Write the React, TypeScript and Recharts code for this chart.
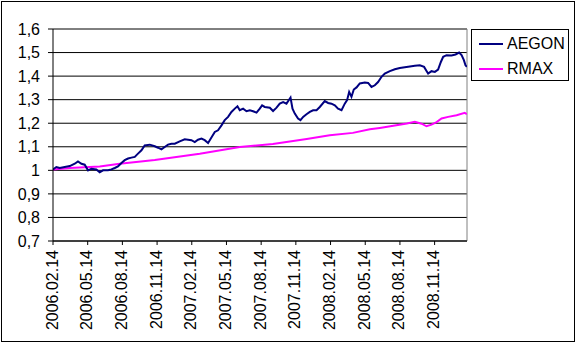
import { LineChart, Line, XAxis, YAxis, CartesianGrid, ReferenceLine } from "recharts";

// x = months since 2006.02.14
const aegonT = [
  0, 0.29, 0.58, 1.01, 1.45, 1.88, 2.16, 2.46, 2.74, 3.03, 3.32, 3.75, 4.04, 4.33, 4.76, 5.05, 5.34, 5.62,
  5.92, 6.2, 6.49, 6.78, 7.07, 7.35, 7.65, 7.93, 8.37, 8.8, 9.08, 9.38, 9.66, 9.95, 10.24, 10.53, 10.96,
  11.39, 11.68, 11.97, 12.26, 12.54, 12.84, 13.12, 13.41, 13.7, 13.99, 14.27, 14.57, 14.85, 15.14, 15.43,
  15.72, 15.95, 16.15, 16.44, 16.73, 17.02, 17.3, 17.6, 17.88, 18.08, 18.31, 18.75, 19.03, 19.33, 19.61,
  19.9, 20.19, 20.54, 20.71, 20.91, 21.19, 21.4, 21.63, 21.92, 22.21, 22.49, 22.79, 23.07, 23.5, 23.79,
  24.08, 24.37, 24.65, 24.95, 25.23, 25.43, 25.61, 25.81, 26.01, 26.25, 26.53, 26.96, 27.25, 27.54, 27.83,
  28.11, 28.41, 28.69, 29.13, 29.56, 29.99, 30.42, 30.86, 31.29, 31.72, 32.09, 32.3, 32.44, 32.73, 33.02,
  33.3, 33.54, 33.74, 34.03, 34.46, 34.81, 35.12, 35.33, 35.53, 35.67, 35.79,
];
const aegonV = [
  1.004, 1.014, 1.01, 1.014, 1.018, 1.028, 1.038, 1.028, 1.024, 1.0, 1.007, 1.004, 0.992, 1.0, 1.0, 1.004,
  1.01, 1.017, 1.031, 1.043, 1.05, 1.054, 1.057, 1.071, 1.085, 1.106, 1.109, 1.102, 1.096, 1.089, 1.099,
  1.109, 1.113, 1.113, 1.123, 1.132, 1.13, 1.128, 1.12, 1.13, 1.135, 1.128, 1.116, 1.139, 1.163, 1.17,
  1.191, 1.213, 1.227, 1.248, 1.262, 1.272, 1.255, 1.262, 1.251, 1.255, 1.251, 1.245, 1.262, 1.276, 1.269,
  1.266, 1.252, 1.266, 1.283, 1.29, 1.283, 1.309, 1.262, 1.241, 1.22, 1.213, 1.227, 1.238, 1.248, 1.255,
  1.255, 1.269, 1.294, 1.286, 1.283, 1.276, 1.262, 1.255, 1.283, 1.298, 1.333, 1.312, 1.343, 1.352, 1.369,
  1.373, 1.371, 1.354, 1.361, 1.375, 1.397, 1.411, 1.421, 1.429, 1.434, 1.438, 1.441, 1.444, 1.446, 1.439,
  1.422, 1.411, 1.421, 1.418, 1.428, 1.46, 1.482, 1.489, 1.488, 1.492, 1.5, 1.489, 1.468, 1.446, 1.439,
];

const rmaxT = [
  0, 1.45, 4.04, 5.77, 8.8, 12.69, 16.15, 19.01, 21.94, 23.93, 25.93, 27.4, 28.26, 29.56, 30.6, 31.29,
  31.87, 32.3, 32.73, 33.17, 33.6, 34.17, 34.9, 35.61, 35.79,
];
const rmaxV = [
  1.003, 1.01, 1.016, 1.028, 1.044, 1.07, 1.099, 1.112, 1.133, 1.149, 1.159, 1.174, 1.18, 1.19, 1.199,
  1.206, 1.198, 1.187, 1.194, 1.205, 1.22, 1.227, 1.234, 1.244, 1.238,
];

const xTicks = [0, 3, 6, 9, 12, 15, 18, 21, 24, 27, 30, 33];
const xTickLabels = [
  "2006.02.14", "2006.05.14", "2006.08.14", "2006.11.14", "2007.02.14", "2007.05.14",
  "2007.08.14", "2007.11.14", "2008.02.14", "2008.05.14", "2008.08.14", "2008.11.14",
];
const yTicks = [0.7, 0.8, 0.9, 1.0, 1.1, 1.2, 1.3, 1.4, 1.5, 1.6];
const yTickLabels = ["0,7", "0,8", "0,9", "1", "1,1", "1,2", "1,3", "1,4", "1,5", "1,6"];

const aegonData = aegonT.map((t, i) => ({ t, v: aegonV[i] }));
const rmaxData = rmaxT.map((t, i) => ({ t, v: rmaxV[i] }));

const FONT = "'Liberation Sans', Arial, sans-serif";
const X_MAX = 35.8;

function XTick({ x, y, payload }) {
  const idx = xTicks.indexOf(payload.value);
  return (
    <g transform={`translate(${x},${y}) rotate(-90)`}>
      <text x={-5} y={-1} textAnchor="end" dominantBaseline="central" fontFamily={FONT} fontSize={16} fill="#000">
        {xTickLabels[idx]}
      </text>
    </g>
  );
}

function LegendBox() {
  const items = [
    { name: "AEGON", color: "#000080" },
    { name: "RMAX", color: "#ff00ff" },
  ];
  return (
    <div
      style={{
        position: "absolute", left: 471, top: 29, width: 98, height: 52, boxSizing: "border-box",
        border: "1px solid #000", background: "#fff",
      }}
    >
      {items.map((it, i) => (
        <div key={it.name} style={{ position: "absolute", left: 7, top: 4 + i * 25, height: 20, display: "flex", alignItems: "center" }}>
          <svg width={24} height={4} style={{ display: "block" }}>
            <line x1={0} y1={2} x2={24} y2={2} stroke={it.color} strokeWidth={2} />
          </svg>
          <span style={{ fontFamily: FONT, fontSize: 16, marginLeft: 4, color: "#000", lineHeight: "20px" }}>{it.name}</span>
        </div>
      ))}
    </div>
  );
}

export default function App() {
  return (
    <div
      style={{
        position: "absolute", left: 0, top: 0, width: 576, height: 343, background: "#fff",
      }}
    >
      <div style={{ position: "absolute", left: 1, top: 1, width: 574, height: 341, boxSizing: "border-box", border: "1px solid #000" }} />
      <LineChart width={576} height={343} margin={{ top: 29, right: 109, left: 0, bottom: 0 }} style={{ position: "absolute", left: 0, top: 0 }}>
        <CartesianGrid vertical={false} stroke="#000" strokeWidth={1} />
        <XAxis
          type="number"
          dataKey="t"
          domain={[0, X_MAX]}
          ticks={xTicks}
          allowDataOverflow
          height={102}
          tickSize={4}
          tickMargin={0}
          stroke="#000"
          tick={<XTick />}
          interval={0}
        />
        <YAxis
          type="number"
          dataKey="v"
          domain={[0.7, 1.6]}
          ticks={yTicks}
          width={53}
          tickSize={5}
          tickMargin={8}
          stroke="#000"
          interval={0}
          tick={{ fontFamily: FONT, fontSize: 16, fill: "#000" }}
          tickFormatter={(v) => yTickLabels[yTicks.findIndex((y) => Math.abs(y - v) < 1e-6)]}
        />
        <ReferenceLine y={1.6} stroke="#808080" strokeWidth={1} ifOverflow="extendDomain" />
        <ReferenceLine x={X_MAX} stroke="#808080" strokeWidth={1} />
        <Line data={rmaxData} dataKey="v" type="linear" stroke="#ff00ff" strokeWidth={2} dot={false} isAnimationActive={false} />
        <Line data={aegonData} dataKey="v" type="linear" stroke="#000080" strokeWidth={2} dot={false} isAnimationActive={false} />
      </LineChart>
      <LegendBox />
    </div>
  );
}
